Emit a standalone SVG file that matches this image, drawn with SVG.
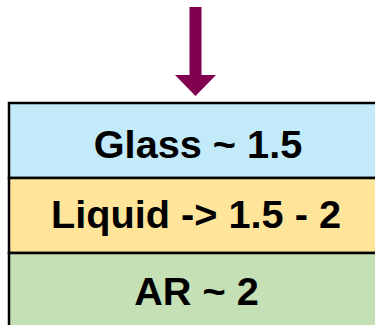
<svg xmlns="http://www.w3.org/2000/svg" width="375" height="325" viewBox="0 0 375 325">
<style>
.row{stroke:#000;stroke-width:2.5}
.lbl{font-family:"Liberation Sans",Arial,sans-serif;font-weight:bold;font-size:39.7px;fill:#000;text-anchor:middle}
</style>
<rect width="375" height="325" fill="#fff"/>
<g id="connectors">
<rect x="189.5" y="7" width="12" height="70" fill="#820050"/>
<polygon points="175,75 216,75 195.5,96" fill="#820050"/>
</g>
<g id="glass">
<rect class="row" x="9" y="103" width="380" height="75" fill="#C2EAF8"/>
<text class="lbl" x="198" y="158">Glass ~ 1.5</text>
</g>
<g id="liquid">
<rect class="row" x="9" y="178" width="380" height="75" fill="#FFE599"/>
<text class="lbl" x="196" y="228">Liquid -&gt; 1.5 - 2</text>
</g>
<g id="ar">
<rect class="row" x="9" y="253" width="380" height="80" fill="#C5E0B4"/>
<text class="lbl" x="196.5" y="305">AR ~ 2</text>
</g>
</svg>
